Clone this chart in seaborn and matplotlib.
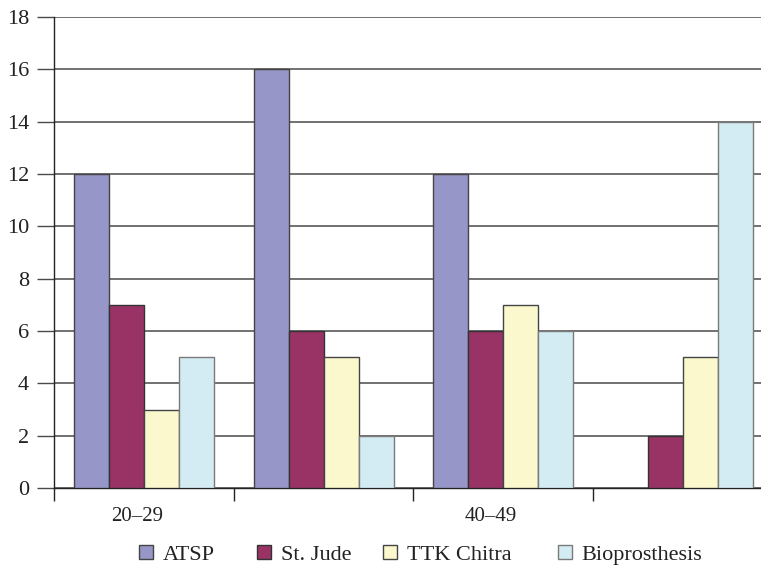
import matplotlib
matplotlib.use("Agg")
import matplotlib.pyplot as plt
import matplotlib.transforms as mtransforms
import seaborn as sns
import pandas as pd
from matplotlib.patches import Patch

# Age groups and valve types
age_groups = ["20–29", "30–39", "40–49", "50–59"]
shown_labels = ["20–29", "", "40–49", ""]
valves = ["ATSP", "St. Jude", "TTK Chitra", "Bioprosthesis"]

atsp = [12, 16, 12, 0]
st_jude = [7, 6, 6, 2]
ttk_chitra = [3, 5, 7, 5]
bioprosthesis = [5, 2, 6, 14]

y_ticks = [0, 2, 4, 6, 8, 10, 12, 14, 16, 18]

colors = ["#9696C8", "#993366", "#FBF8CE", "#D3ECF3"]
edges = ["#444444", "#333333", "#444444", "#7a7a7a"]

rows = []
for v, vals in zip(valves, [atsp, st_jude, ttk_chitra, bioprosthesis]):
    for g, val in zip(age_groups, vals):
        rows.append({"Age": g, "Valve": v, "Count": val})
df = pd.DataFrame(rows)

sns.set_theme(style="white")
plt.rcParams["font.family"] = ["Liberation Serif", "DejaVu Serif"]

fig = plt.figure(figsize=(7.61, 5.69), dpi=100)
ax = fig.add_axes([54 / 761, 1 - 488 / 569, 719 / 761, (488 - 17) / 569])

sns.barplot(data=df, x="Age", y="Count", hue="Valve", order=age_groups,
            hue_order=valves, palette=colors, saturation=1, width=0.78,
            gap=0, legend=False, ax=ax, zorder=3)

# colour each series' edges; empty bars stay invisible
for container, ec in zip(ax.containers, edges):
    for bar in container:
        bar.set_edgecolor(ec)
        bar.set_linewidth(1.0 if bar.get_height() > 0 else 0)

ax.set_xlim(-0.5, 3.5)
ax.set_ylim(0, 18)
ax.set_yticks(y_ticks)
ax.set_yticklabels([str(t) for t in y_ticks])
ax.yaxis.grid(True, color="#4a4a4a", linewidth=1.1, zorder=0)
ax.set_axisbelow(True)

# group boundaries get tick marks; group centres carry the labels
ax.set_xticks(range(len(age_groups)))
ax.set_xticklabels(shown_labels)
ax.set_xticks([-0.5, 0.5, 1.5, 2.5, 3.5], minor=True)
ax.tick_params(axis="x", which="major", length=0, pad=14, labelsize=15,
               labelcolor="#222222")
ax.tick_params(axis="x", which="minor", length=9, width=1.0, color="#222222",
               direction="out", bottom=True)
ax.tick_params(axis="y", length=12, width=1.0, color="#4a4a4a",
               direction="out", left=True, pad=6, labelsize=16,
               labelcolor="#222222")
shifts = [-7, 0, -13, 0]
for lbl, dx in zip(ax.get_xticklabels(), shifts):
    lbl.set_transform(lbl.get_transform() +
                      mtransforms.ScaledTranslation(dx / 100, 0, fig.dpi_scale_trans))

ax.set_xlabel("")
ax.set_ylabel("")
for side in ["top", "right"]:
    ax.spines[side].set_visible(False)
ax.spines["left"].set_color("#222222")
ax.spines["bottom"].set_color("#222222")
ax.spines["left"].set_linewidth(1.0)
ax.spines["bottom"].set_linewidth(1.0)

# legend entries placed individually along the bottom
legend_x = [139, 257, 383, 558]
for c, e, v, x in zip(colors, edges, valves, legend_x):
    h = Patch(facecolor=c, edgecolor=e, linewidth=1.0, label=v)
    fig.legend(handles=[h], loc="center left",
               bbox_to_anchor=(x / 761, 1 - 555 / 569),
               frameon=False, fontsize=16, handlelength=0.62,
               handleheight=0.62, handletextpad=0.45, borderpad=0,
               borderaxespad=0, labelcolor="#222222")

fig.savefig("out.png", dpi=100)
